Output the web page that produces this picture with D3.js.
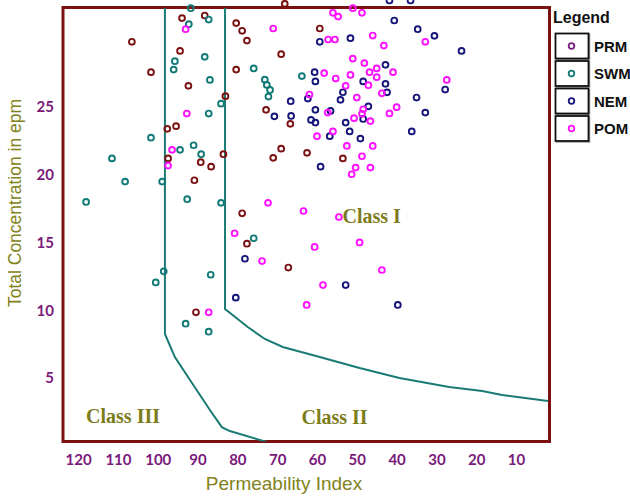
<!DOCTYPE html>
<html>
<head>
<meta charset="utf-8">
<script src="https://cdn.jsdelivr.net/npm/d3@7"></script>
<style>
  body { margin: 0; background: #fff; }
  svg { display: block; }
</style>
</head>
<body>
<svg id="chart" width="630" height="497"></svg>
<script>
// Doneen diagram: permeability index vs total concentration
var xTicks = [120, 110, 100, 90, 80, 70, 60, 50, 40, 30, 20, 10];
var yTicks = [5, 10, 15, 20, 25];
var seriesNames = ['PRM', 'SWM', 'NEM', 'POM'];

// [permeability index, total concentration]
var prm = [
  [93.9,31.55],[88.2,31.74],[106.5,29.8],[94.4,29.13],[101.7,27.56],[92.3,26.55],[83.0,25.79],
  [97.6,23.38],[95.4,23.58],[83.5,21.51],[97.4,21.2],[89.2,20.92],[86.6,20.59],[90.8,19.59],
  [90.4,9.85],[77.6,14.91],[67.2,13.15],[68.1,32.6],[80.3,31.18],[78.8,30.61],[77.6,29.89],
  [59.3,30.78],[69.0,28.89],[80.3,27.75],[72.8,24.78],[66.7,23.75],[69.0,21.92],[71.0,21.24],
  [62.5,21.61],[53.5,21.2],[78.8,17.15]
];
var swm = [
  [91.7,32.28],[87.2,31.44],[92.2,31.1],[95.7,28.37],[88.2,28.69],[96.0,27.75],[86.9,26.99],
  [84.1,25.24],[87.2,24.51],[101.7,22.73],[94.4,21.83],[91.0,22.17],[89.1,21.51],[111.5,21.2],
  [108.2,19.49],[98.9,19.49],[118.0,17.99],[92.6,18.19],[84.1,17.92],[98.5,12.87],[100.5,12.05],
  [86.7,12.62],[93.0,9.01],[87.2,8.42],[75.9,27.84],[63.8,27.27],[73.1,27.01],[72.6,26.62],
  [71.8,26.25],[72.2,25.76],[75.9,15.31]
];
var nem = [
  [41.8,32.85],[36.5,32.85],[59.3,29.8],[51.6,30.07],[40.6,31.37],[34.7,30.73],[30.5,30.24],
  [23.7,29.13],[42.8,28.1],[60.6,27.56],[60.4,26.88],[53.5,26.08],[54.1,25.52],[66.6,25.42],
  [48.4,26.88],[42.8,26.7],[42.4,26.07],[27.8,26.28],[35.0,25.69],[62.3,25.61],[70.7,24.3],
  [66.5,24.33],[60.4,24.78],[56.6,24.7],[47.1,25.04],[32.8,24.58],[61.5,24.04],[60.4,23.84],
  [48.4,24.11],[52.8,23.84],[51.8,23.19],[56.8,22.84],[49.1,22.66],[36.2,23.19],[59.1,20.59],
  [78.1,13.8],[80.4,10.93],[52.8,11.86],[39.7,10.39]
];
var pom = [
  [93.0,30.73],[92.7,24.51],[96.4,21.83],[97.4,20.67],[87.2,9.85],[71.0,30.78],[57.2,29.97],
  [55.5,29.97],[56.0,31.94],[54.7,31.66],[51.0,32.28],[48.7,31.94],[46.0,30.26],[43.2,29.52],
  [32.8,29.8],[51.0,28.56],[48.1,28.23],[58.2,27.49],[55.3,27.09],[51.6,27.36],[46.8,27.56],
  [45.0,27.84],[40.9,27.56],[45.0,27.19],[52.8,26.55],[47.1,26.6],[43.7,26.0],[27.4,26.99],
  [61.9,25.91],[50.0,25.69],[48.4,24.82],[48.7,24.49],[40.0,24.98],[41.8,24.52],[57.3,24.58],
  [50.7,24.17],[46.6,23.95],[56.0,23.19],[60.0,22.84],[52.5,22.12],[46.0,22.12],[48.7,21.36],
  [50.3,20.52],[46.6,20.52],[51.3,20.03],[80.7,15.68],[72.3,17.92],[63.4,17.32],[54.5,16.88],
  [73.8,13.63],[60.6,14.67],[49.3,15.0],[58.5,11.86],[43.7,12.97],[62.6,10.39]
];

// class boundary lines
var class3Line = [[98.2,32.3],[98.2,8.25],[95.7,6.55],[91.4,4.63],[86.9,2.64],[83.9,1.38],[81.9,1.09],[72.6,0.28]];
var class1Line = [[83.1,32.3],[83.1,10.09],[77.4,8.76],[73.1,7.88],[68.6,7.29],[59.3,6.55],[49.3,5.74],
  [39.3,5.0],[26.8,4.34],[18.5,4.04],[13.5,3.75],[2.0,3.3]];

var classLabels = [
  { text: 'Class I', x: 53.6, y: 16.4 },
  { text: 'Class II', x: 63.9, y: 1.6 },
  { text: 'Class III', x: 118.0, y: 1.7 }
];

var pointColors = ['#7b1212', '#127a76', '#16167a', '#ff10ff'];
var legendColors = ['#7a2080', '#127a76', '#16167a', '#ff10ff'];

var svg = d3.select('#chart');
var plotLeft = 63, plotRight = 549.5, plotTop = 7.5, plotBottom = 441.5;

var x = d3.scaleLinear().domain([123.8, 1.6]).range([plotLeft, plotRight]);
var y = d3.scaleLinear().domain([0.32, 32.33]).range([plotBottom, plotTop]);

svg.append('defs').append('clipPath').attr('id', 'plotClip')
  .append('rect')
  .attr('x', plotLeft).attr('y', plotTop)
  .attr('width', plotRight - plotLeft).attr('height', plotBottom - plotTop);

// frame
svg.append('rect')
  .attr('x', plotLeft).attr('y', plotTop)
  .attr('width', plotRight - plotLeft).attr('height', plotBottom - plotTop)
  .attr('fill', 'none')
  .attr('stroke', '#7b1010')
  .attr('stroke-width', 3);

// axes (labels only)
var xAxis = svg.append('g')
  .attr('transform', 'translate(0,' + plotBottom + ')')
  .call(d3.axisBottom(x).tickValues(xTicks).tickSize(0).tickPadding(13));
var yAxis = svg.append('g')
  .attr('transform', 'translate(' + plotLeft + ',0)')
  .call(d3.axisLeft(y).tickValues(yTicks).tickSize(0).tickPadding(9));
[xAxis, yAxis].forEach(function(a) {
  a.select('.domain').remove();
  a.selectAll('text')
    .attr('fill', '#7a1a7a')
    .style('font-family', 'Lato, sans-serif')
    .style('font-weight', 'bold')
    .style('font-size', '15px');
});

// boundary curves
var line = d3.line()
  .x(function(d) { return x(d[0]); })
  .y(function(d) { return y(d[1]); });

svg.append('g').attr('clip-path', 'url(#plotClip)')
  .selectAll('path')
  .data([class3Line, class1Line])
  .enter()
  .append('path')
  .attr('d', line)
  .attr('fill', 'none')
  .attr('stroke', '#1a7a74')
  .attr('stroke-width', 2);

// class labels
svg.selectAll('.classLabel')
  .data(classLabels)
  .enter()
  .append('text')
  .attr('class', 'classLabel')
  .attr('x', function(d) { return x(d.x); })
  .attr('y', function(d) { return y(d.y); })
  .attr('fill', '#7c7c1a')
  .style('font-family', '"Liberation Serif", serif')
  .style('font-weight', 'bold')
  .style('font-size', '20px')
  .text(function(d) { return d.text; });

// points
[prm, swm, nem, pom].forEach(function(series, i) {
  svg.append('g')
    .selectAll('circle')
    .data(series)
    .enter()
    .append('circle')
    .attr('cx', function(d) { return x(d[0]); })
    .attr('cy', function(d) { return y(d[1]); })
    .attr('r', 2.9)
    .attr('fill', 'none')
    .attr('stroke', pointColors[i])
    .attr('stroke-width', 1.9);
});

// axis titles
svg.append('text')
  .attr('x', 284).attr('y', 490)
  .attr('text-anchor', 'middle')
  .attr('fill', '#828220')
  .style('font-family', '"Liberation Sans", Arial, sans-serif')
  .style('font-size', '19px')
  .text('Permeability Index');

svg.append('text')
  .attr('transform', 'translate(21,203) rotate(-90)')
  .attr('text-anchor', 'middle')
  .attr('fill', '#828220')
  .style('font-family', '"Liberation Sans", Arial, sans-serif')
  .style('font-size', '17.5px')
  .text('Total Concentration in epm');

// legend
var legend = svg.append('g').attr('class', 'legend');
legend.append('text')
  .attr('x', 553).attr('y', 23)
  .style('font-family', '"Liberation Sans", Arial, sans-serif')
  .style('font-weight', 'bold')
  .style('font-size', '16px')
  .attr('fill', '#111')
  .text('Legend');

legend.selectAll('g')
  .data(seriesNames)
  .enter()
  .append('g')
  .each(function(d, i) {
    var g = d3.select(this);
    var by = 33.5 + i * 27.5;
    g.append('rect')
      .attr('x', 556.5).attr('y', by + 1)
      .attr('width', 33).attr('height', 25)
      .attr('fill', 'none')
      .attr('stroke', '#999')
      .attr('stroke-width', 1.5);
    g.append('rect')
      .attr('x', 555.5).attr('y', by)
      .attr('width', 33).attr('height', 25)
      .attr('fill', '#fff')
      .attr('stroke', '#111')
      .attr('stroke-width', 1.8);
    g.append('circle')
      .attr('cx', 571.5).attr('cy', by + 12.5)
      .attr('r', 2.8)
      .attr('fill', 'none')
      .attr('stroke', legendColors[i])
      .attr('stroke-width', 1.8);
    g.append('text')
      .attr('x', 594).attr('y', by + 18)
      .style('font-family', '"Liberation Sans", Arial, sans-serif')
      .style('font-weight', 'bold')
      .style('font-size', '15px')
      .attr('fill', '#111')
      .text(d);
  });
</script>
</body>
</html>
